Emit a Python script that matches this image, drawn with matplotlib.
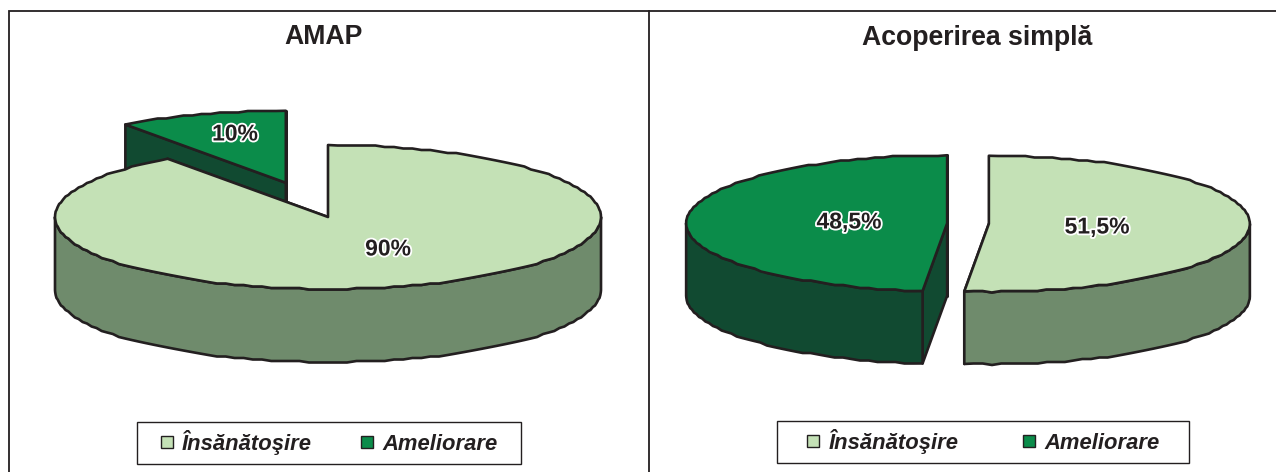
import numpy as np
import matplotlib
matplotlib.use('Agg')
import matplotlib.pyplot as plt
from matplotlib.patches import Polygon, Rectangle
import matplotlib.patheffects as pe

plt.rcParams['font.family'] = ['Liberation Sans', 'DejaVu Sans']

# Chart values
categories = ['Însănătoşire', 'Ameliorare']
amap_values = [90, 10]
amap_labels = ['90%', '10%']
acoperire_values = [51.5, 48.5]
acoperire_labels = ['51,5%', '48,5%']
titles = ['AMAP', 'Acoperirea simplă']

LIGHT = '#C4E1B6'
LIGHT_SIDE = '#6F8B6C'
GREEN = '#0B8C4A'
GREEN_SIDE = '#114A31'
INK = '#231F20'
LW = 1.9


def rim(cx, cy, rx, ry, a0, a1):
    # points on the ellipse, angles clockwise from 12 o'clock, slightly stepped outline
    n = max(2, int(abs(a1 - a0) / 2) + 1)
    t = np.radians(np.linspace(a0, a1, n))
    x = cx + rx * np.sin(t)
    y = cy - ry * np.cos(t)
    inner = np.ones(n, dtype=bool)
    inner[[0, -1]] = False
    y[inner] = np.round(y[inner] / 1.5) * 1.5
    return np.column_stack([x, y])


def draw_pie(ax, values, colors, sides, explode, center, rx, ry, depth, order):
    total = sum(values)
    edges = np.cumsum([0] + list(values)) / total * 360
    for i in order:
        a0, a1 = edges[i], edges[i + 1]
        mid = np.radians((a0 + a1) / 2)
        cx = center[0] + explode[i] * rx * np.sin(mid)
        cy = center[1] - explode[i] * ry * np.cos(mid)
        tip = np.array([cx, cy])
        down = np.array([0, depth])
        style = dict(edgecolor=INK, linewidth=LW, joinstyle='round')

        # cut faces
        for a in (a0, a1):
            p = rim(cx, cy, rx, ry, a, a)[0]
            ax.add_patch(Polygon([tip, p, p + down, tip + down], facecolor=sides[i], **style))

        # outer wall, only the part facing the viewer
        f0, f1 = max(a0, 90), min(a1, 270)
        if f1 > f0:
            pts = rim(cx, cy, rx, ry, f0, f1)
            ax.add_patch(Polygon(np.vstack([pts, (pts + down)[::-1]]), facecolor=sides[i], **style))

        # top face
        pts = rim(cx, cy, rx, ry, a0, a1)
        ax.add_patch(Polygon(np.vstack([tip, pts]), facecolor=colors[i], **style))


def legend_box(ax, x0, y0, w, h, swatch_x, text_x):
    ax.add_patch(Rectangle((x0, y0), w, h, facecolor='white', edgecolor=INK, linewidth=1.0))
    for name, color, sx, tx in zip(categories, [LIGHT, GREEN], swatch_x, text_x):
        ax.add_patch(Rectangle((sx, y0 + 14), 12, 12, facecolor=color, edgecolor=INK, linewidth=1.0))
        ax.text(tx, y0 + 28, name, fontsize=15.8, fontweight='bold', style='italic',
                color=INK, ha='left', va='baseline')


def pct(ax, x, y, s):
    ax.text(x, y, s, fontsize=16.5, fontweight='bold', color=INK, ha='center', va='center',
            path_effects=[pe.withStroke(linewidth=2.6, foreground='white')])


fig = plt.figure(figsize=(12.76, 4.72), dpi=100)
ax = fig.add_axes([0, 0, 1, 1])
ax.set_xlim(0, 1276)
ax.set_ylim(472, 0)
ax.axis('off')

# panel frame, open at the bottom and on the right
ax.plot([9, 9, 1276], [472, 11, 11], color=INK, lw=1.3, solid_joinstyle='miter')
ax.plot([649, 649], [11, 472], color=INK, lw=1.3)

ax.text(324, 44.5, titles[0], fontsize=19.2, fontweight='bold', color=INK, ha='center', va='baseline')
ax.text(977, 45, titles[1], fontsize=19.2, fontweight='bold', color=INK, ha='center', va='baseline')

draw_pie(ax, amap_values, [LIGHT, GREEN], [LIGHT_SIDE, GREEN_SIDE], [0, 0.5],
         (328, 217), 273, 72, 73, order=[1, 0])
draw_pie(ax, acoperire_values, [LIGHT, GREEN], [LIGHT_SIDE, GREEN_SIDE], [0.08, 0.08],
         (968, 223.5), 261, 68, 72.5, order=[1, 0])

pct(ax, 388, 249, amap_labels[0])
pct(ax, 235, 134, amap_labels[1])
pct(ax, 1097, 227, acoperire_labels[0])
pct(ax, 849, 222, acoperire_labels[1])

legend_box(ax, 137, 422, 384, 42, [161, 361], [182, 382])
legend_box(ax, 777, 421, 412, 42, [807, 1023], [829, 1044])

fig.savefig('out.png', dpi=100)
